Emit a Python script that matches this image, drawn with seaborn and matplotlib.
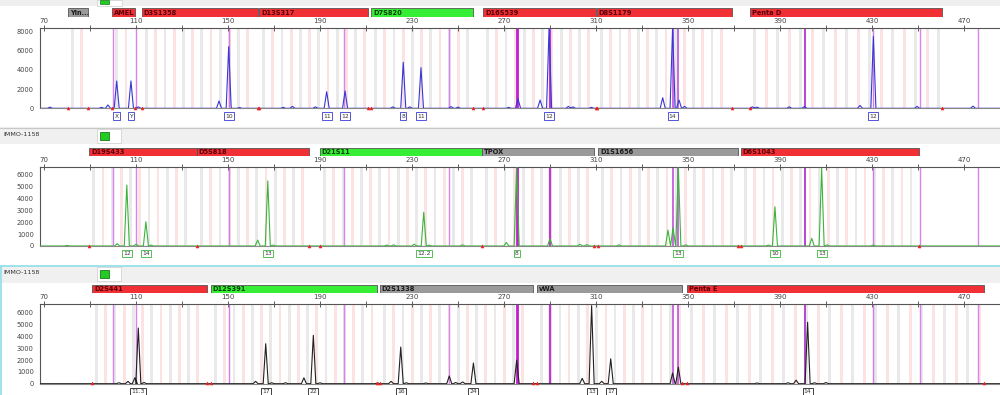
import numpy as np
import pandas as pd
import matplotlib
matplotlib.use('Agg')
import matplotlib.pyplot as plt
import seaborn as sns
from matplotlib.patches import Rectangle

sns.set_style('white')
plt.rcParams['font.family'] = ['DejaVu Sans']

W, H = 1000, 395

# ---------------- data ----------------
# panel 1 (blue dye)
blue_pos = [72.6, 95, 97.8, 101.6, 107.8, 111, 146.1, 150.3, 155, 174, 178, 188, 192.9, 200.9,
            221.7, 226.2, 229, 233.9, 247, 250, 272, 276.1, 285.7, 289.6, 298, 300, 308,
            339, 343.3, 346.1, 348.5, 378, 380, 394, 400.6, 424.8, 430.6, 449.6, 473.9]
blue_hgt = [120, 100, 350, 2840, 2850, 150, 760, 6420, 80, 100, 200, 150, 1730, 1800,
            150, 4790, 150, 4230, 180, 120, 100, 1000, 860, 8400, 200, 150, 100,
            1100, 8400, 860, 200, 150, 120, 150, 180, 300, 7500, 200, 220]
blue_alleles = ['X', 'Y', '10', '11', '12', '8', '11', '12', '14', '12']
blue_allele_pos = [101.6, 107.8, 150.3, 192.9, 200.9, 226.2, 233.9, 289.6, 343.3, 430.6]

# panel 2 (green dye)
green_pos = [80, 101.8, 106, 110, 114.3, 116.5, 162.9, 167.3, 169.5, 219, 222, 231, 235.1, 237.5,
             252, 271, 275.5, 290, 303, 306, 320, 341.3, 343.5, 345.8, 349, 385, 387.8,
             403.8, 408.1, 410.5, 430.5]
green_hgt = [50, 200, 5150, 150, 2050, 80, 500, 5500, 80, 80, 100, 150, 2850, 80,
             100, 300, 6650, 600, 150, 120, 100, 1350, 1550, 6650, 100, 80, 3320,
             650, 6570, 100, 80]
green_alleles = ['12', '14', '13', '12.2', '8', '13', '10', '13']
green_allele_pos = [106, 114.3, 167.3, 235.1, 275.5, 345.8, 387.8, 408.1]

# panel 3 (black dye)
black_pos = [102.6, 106.5, 109.5, 111, 113.5, 162, 166.4, 169, 175, 183, 187.1, 190, 215,
             220.9, 225.1, 227.5, 236, 246.2, 249, 252, 256.7, 275.5, 304, 308.1, 312.5,
             316.4, 343.3, 345.8, 380, 393.5, 397, 402, 405, 410]
black_hgt = [80, 200, 500, 4710, 100, 200, 3380, 80, 80, 500, 4090, 80, 60,
             200, 3100, 80, 60, 650, 100, 150, 1750, 2000, 450, 6600, 200,
             2110, 900, 1400, 60, 80, 300, 5200, 80, 100]
black_alleles = ['11.3', '17', '22', '16', '24', '13', '17', '14']
black_allele_pos = [111, 166.4, 187.1, 225.1, 256.7, 308.1, 316.4, 402]

# locus bars (bp start, bp end)
loci1 = ['Yin...', 'AMEL', 'D3S1358', 'D13S317', 'D7S820', 'D16S539', 'D8S1179', 'Penta D']
loci1_start = [80.4, 99.6, 112.6, 163.5, 212.2, 260.9, 310.4, 377]
loci1_end = [89.1, 109.6, 163, 210.9, 256.5, 310, 369.1, 460.4]
loci1_col = ['gray', 'red', 'red', 'red', 'green', 'red', 'red', 'red']

loci2 = ['D19S433', 'D5S818', 'D21S11', 'TPOX', 'D1S1656', 'D6S1043']
loci2_start = [89.6, 136.5, 190, 260.4, 310.9, 373]
loci2_end = [136.5, 185.2, 260.4, 309.1, 371.7, 450.4]
loci2_col = ['red', 'red', 'green', 'gray', 'gray', 'red']

loci3 = ['D2S441', 'D12S391', 'D2S1338', 'vWA', 'Penta E']
loci3_start = [90.9, 142.6, 216.1, 284.3, 349.6]
loci3_end = [140.9, 214.8, 282.6, 347.4, 478.7]
loci3_col = ['red', 'green', 'gray', 'gray', 'red']

# size standard lines (bp)
std_pos = [100, 110, 150.4, 200.4, 246.1, 275.7, 290, 343.5, 345.7, 400.9, 430.4, 450.9, 476.1]
std_lw = [1, 1, 1, 1, 1, 2, 1.6, 1.2, 1.2, 1.4, 1, 1, 1]
std_col = ['#d884ea', '#d884ea', '#d27ce6', '#d884ea', '#d884ea', '#c41cd0', '#b83cd0',
           '#c050d8', '#c050d8', '#b844d4', '#d27ce6', '#d884ea', '#d884ea']

bar_face = {'red': '#f03035', 'green': '#35ee35', 'gray': '#9a9a9a'}
bar_text = {'red': '#5a0008', 'green': '#0b3d0b', 'gray': '#1a1a1a'}

XMIN, XMAX = 68.26, 485.65


def px_rect(x, y, w, h, **kw):
    r = Rectangle((x / W, 1 - (y + h) / H), w / W, h / H, transform=fig.transFigure, **kw)
    fig.add_artist(r)


def trace(pos, hgt, w=1.1):
    xs, ys = [XMIN], [0]
    for p, h in sorted(zip(pos, hgt)):
        xs += [p - w, p, p + w]
        ys += [0, h, 0]
    xs.append(XMAX)
    ys.append(0)
    return pd.DataFrame({'bp': xs, 'rfu': ys})


fig = plt.figure(figsize=(W / 100, H / 100), dpi=100)
fig.patch.set_facecolor('white')

# headers
px_rect(0, 0, W, 5.5, facecolor='#efefef', edgecolor='none')
px_rect(97, 0, 25, 6, facecolor='white', edgecolor='#cccccc', lw=0.5)
px_rect(100, 0, 9, 3.5, facecolor='#22cc22', edgecolor='#1a7a1a', lw=0.5)

px_rect(0, 127.5, W, 17, facecolor='#f0f0f0', edgecolor='none')
fig.add_artist(plt.Line2D([0, 1], [1 - 127.5 / H] * 2, color='#c8c8c8', lw=0.8))
fig.text(3 / W, 1 - 134.5 / H, 'IMMO-1158', fontsize=4.6, color='#333333', va='center')
px_rect(97, 129, 24, 14, facecolor='white', edgecolor='#cccccc', lw=0.5)
px_rect(100, 131.5, 9, 8.5, facecolor='#22cc22', edgecolor='#1a7a1a', lw=0.6)

px_rect(0, 266, W, 16.5, facecolor='#f0f0f0', edgecolor='none')
fig.add_artist(plt.Line2D([0, 1], [1 - 265.5 / H] * 2, color='#8fdde8', lw=1.2))
fig.add_artist(plt.Line2D([0.6 / W, 0.6 / W], [0, 1 - 265.5 / H], color='#8fdde8', lw=1.2))
fig.text(3 / W, 1 - 272 / H, 'IMMO-1158', fontsize=4.6, color='#333333', va='center')
px_rect(97, 267, 24, 14, facecolor='white', edgecolor='#cccccc', lw=0.5)
px_rect(100, 269.5, 9, 8.5, facecolor='#22cc22', edgecolor='#1a7a1a', lw=0.6)

panels = [
    dict(pos=blue_pos, hgt=blue_hgt, col='#3838d4', al=blue_alleles, alp=blue_allele_pos,
         loci=loci1, ls=loci1_start, le=loci1_end, lc=loci1_col,
         ax_top=28.3, ax_bot=108.3, bar_y=(8.3, 16.9), ytop=8333,
         yt=[0, 2000, 4000, 6000, 8000], ymin=1000),
    dict(pos=green_pos, hgt=green_hgt, col='#3cb43c', al=green_alleles, alp=green_allele_pos,
         loci=loci2, ls=loci2_start, le=loci2_end, lc=loci2_col,
         ax_top=166.7, ax_bot=246, bar_y=(148.2, 155.8), ytop=6700,
         yt=[0, 1000, 2000, 3000, 4000, 5000, 6000], ymin=500),
    dict(pos=black_pos, hgt=black_hgt, col='#222222', al=black_alleles, alp=black_allele_pos,
         loci=loci3, ls=loci3_start, le=loci3_end, lc=loci3_col,
         ax_top=304, ax_bot=383.7, bar_y=(284.6, 292.8), ytop=6740,
         yt=[0, 1000, 2000, 3000, 4000, 5000, 6000], ymin=500),
]

for p in panels:
    ax = fig.add_axes([40 / W, 1 - p['ax_bot'] / H, 960 / W, (p['ax_bot'] - p['ax_top']) / H])
    ax.set_xlim(XMIN, XMAX)
    ax.set_ylim(0, p['ytop'])

    # bin stripes inside every locus
    for name, s, e in zip(p['loci'], p['ls'], p['le']):
        step = 5 if 'Penta' in name else 4
        bins = np.arange(s + 2, e - 1, step)
        for i, b in enumerate(bins):
            c = '#e9e9e9' if i % 2 == 0 else '#fbe3e3'
            ax.axvspan(b - 0.6, b + 0.6, color=c, lw=0, zorder=0)

    for sp, lw, c in zip(std_pos, std_lw, std_col):
        ax.axvline(sp, color=c, lw=lw, zorder=1)

    df = trace(p['pos'], p['hgt'])
    sns.lineplot(data=df, x='bp', y='rfu', sort=False, estimator=None, color=p['col'],
                 lw=0.8, ax=ax, zorder=3)
    ax.set_xlabel('')
    ax.set_ylabel('')

    # red flags at locus edges
    edges = sorted(set(p['ls'] + p['le']))
    ax.plot(edges, [40] * len(edges), ls='none', marker='^', ms=2.2, color='#ee2020',
            mec='#ee2020', mew=0.3, zorder=4, clip_on=False)

    # allele call boxes
    for a, x in zip(p['al'], p['alp']):
        ax.annotate(a, xy=(x, 0), xycoords=('data', 'axes fraction'), xytext=(0, -5.6),
                    textcoords='offset points', ha='center', va='center', fontsize=4.3,
                    color='#333333',
                    bbox=dict(boxstyle='square,pad=0.2', fc='white', ec=p['col'], lw=0.6))

    ax.xaxis.tick_top()
    ax.set_xticks(np.arange(70, 480, 40))
    ax.set_xticks(np.arange(90, 480, 40), minor=True)
    ax.tick_params(axis='x', which='both', direction='inout', length=4, width=0.6,
                   color='#444444', labelsize=5, labelcolor='#444444', pad=1)
    ax.set_yticks(p['yt'])
    ax.set_yticks(np.arange(0, p['ytop'], p['ymin']), minor=True)
    ax.tick_params(axis='y', which='major', direction='out', length=3, width=0.6,
                   color='#444444', labelsize=4.8, labelcolor='#444444', pad=1.5)
    ax.tick_params(axis='y', which='minor', direction='out', length=1.5, width=0.5,
                   color='#444444')
    for side in ['top', 'left']:
        ax.spines[side].set_color('#555555')
        ax.spines[side].set_linewidth(0.8)
    ax.spines['bottom'].set_color('#888888')
    ax.spines['bottom'].set_linewidth(0.8)
    ax.spines['right'].set_visible(False)

    # locus bar strip
    y0, y1 = p['bar_y']
    bax = fig.add_axes([40 / W, 1 - y1 / H, 960 / W, (y1 - y0) / H])
    bax.set_xlim(XMIN, XMAX)
    bax.set_ylim(0, 1)
    bax.axis('off')
    widths = [e - s for s, e in zip(p['ls'], p['le'])]
    bax.barh([0.5] * len(widths), widths, left=p['ls'], height=1,
             color=[bar_face[c] for c in p['lc']], edgecolor='#555555', lw=0.6)
    for name, s, c in zip(p['loci'], p['ls'], p['lc']):
        bax.text(s + 0.8, 0.5, name, fontsize=4.8, fontweight='bold', color=bar_text[c],
                 va='center', ha='left')

fig.savefig('out.png', dpi=100, facecolor='white')
